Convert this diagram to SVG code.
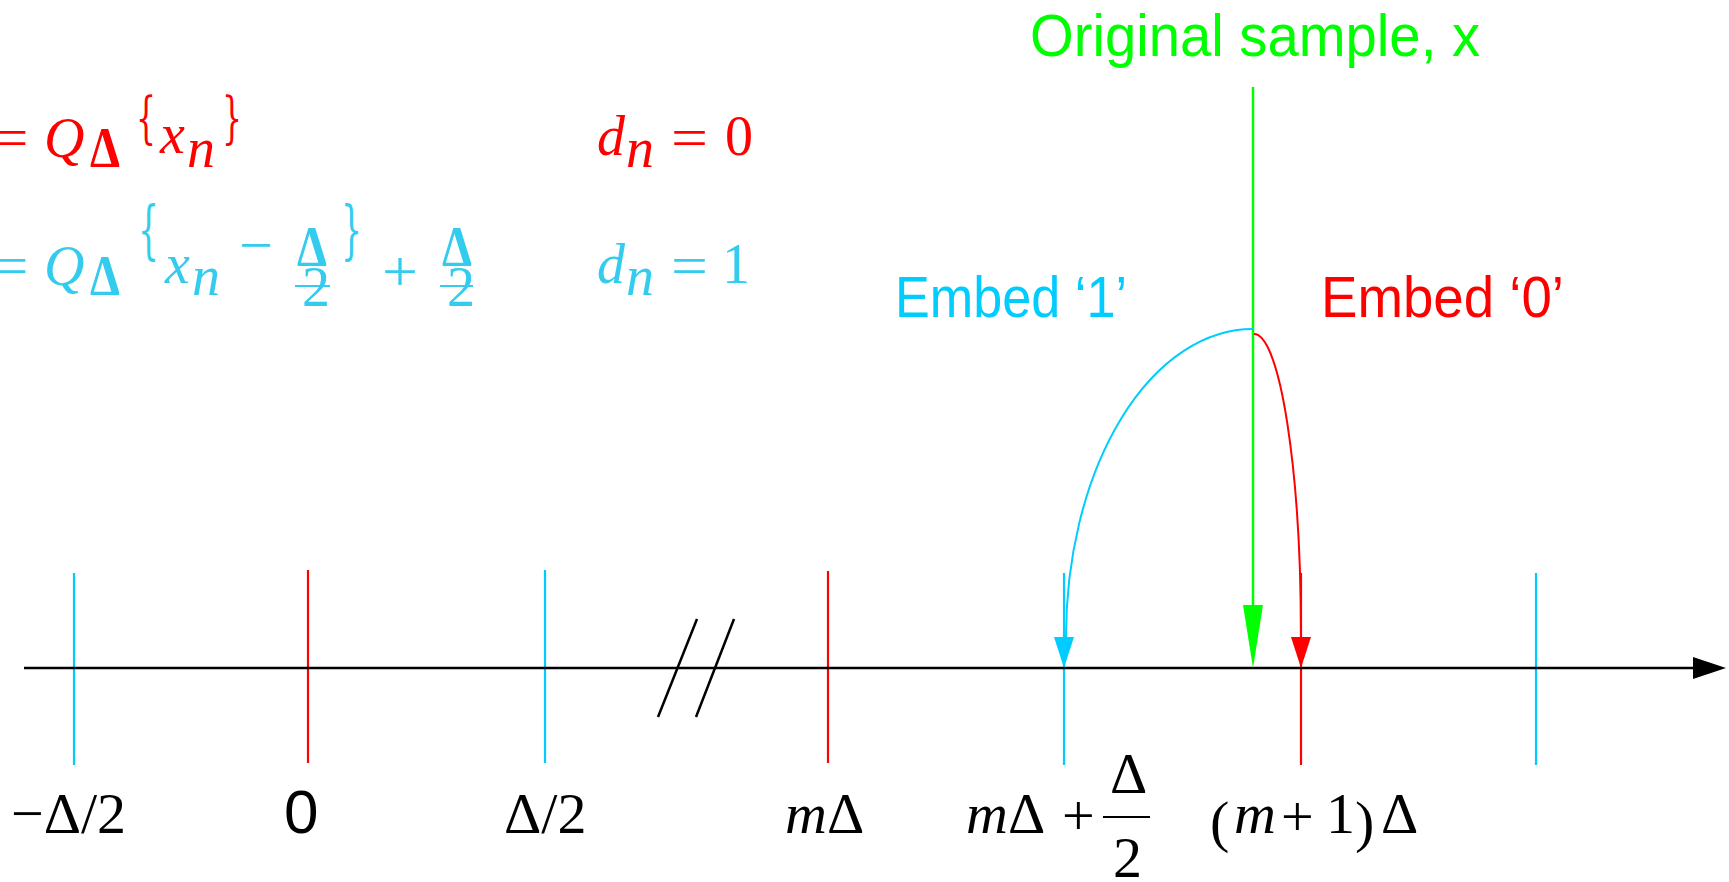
<svg xmlns="http://www.w3.org/2000/svg" width="1729" height="882" viewBox="0 0 1729 882">
<style>
.tm{font-family:"Liberation Serif","Times New Roman",serif;font-size:58px;fill:#000}
.it{font-style:italic}
.cm{font-family:"Liberation Serif","Times New Roman",serif;font-size:56px}
.br{font-family:"DejaVu Serif",serif}
.red{fill:#FF0000}
.cy{fill:#33CCEE}
.sans{font-family:"Liberation Sans",Arial,sans-serif}
.tickc{stroke:#00CCFF;stroke-width:2.2}
.tickr{stroke:#FF0000;stroke-width:2.2}
</style>
<rect x="0" y="0" width="1729" height="882" fill="#FFFFFF"/>

<g id="formula-red">
<text class="cm red" x="-3" y="157" textLength="31" lengthAdjust="spacingAndGlyphs">=</text>
<text class="cm red it" x="44" y="157" font-size="63">Q</text>
<text class="cm red" x="90" y="167" font-size="40" font-weight="bold" textLength="30" lengthAdjust="spacingAndGlyphs">Δ</text>
<text class="br red" x="136" y="137" font-size="56" textLength="20" lengthAdjust="spacingAndGlyphs">{</text>
<text class="cm red it" x="160" y="153" font-size="58">x</text>
<text class="cm red it" x="187" y="167" font-size="46">n</text>
<text class="br red" x="222" y="137" font-size="56" textLength="20" lengthAdjust="spacingAndGlyphs">}</text>
<text class="cm red it" x="597" y="155">d</text>
<text class="cm red it" x="626" y="167" font-size="44">n</text>
<text class="cm red" x="671" y="157" textLength="37" lengthAdjust="spacingAndGlyphs">=</text>
<text class="cm red" x="725" y="155">0</text>
</g>

<g id="formula-cyan">
<text class="cm cy" x="-3" y="285" textLength="31" lengthAdjust="spacingAndGlyphs">=</text>
<text class="cm cy it" x="44" y="285" font-size="63">Q</text>
<text class="cm cy" x="90" y="295" font-size="40" font-weight="bold" textLength="30" lengthAdjust="spacingAndGlyphs">Δ</text>
<text class="br cy" x="138" y="252" font-size="64" textLength="21" lengthAdjust="spacingAndGlyphs">{</text>
<text class="cm cy it" x="165" y="283" font-size="58">x</text>
<text class="cm cy it" x="192" y="295" font-size="46">n</text>
<text class="cm cy" x="239" y="264" textLength="34" lengthAdjust="spacingAndGlyphs">−</text>
<text class="cm cy" x="297" y="266" font-size="36" font-weight="bold" textLength="30" lengthAdjust="spacingAndGlyphs">Δ</text>
<line x1="295" y1="286" x2="330" y2="286" stroke="#33CCEE" stroke-width="2.2"/>
<text class="cm cy" x="302" y="306" font-size="34">2</text>
<text class="br cy" x="341" y="252" font-size="64" textLength="21" lengthAdjust="spacingAndGlyphs">}</text>
<text class="cm cy" x="382" y="291" font-size="80" textLength="36" lengthAdjust="spacingAndGlyphs">+</text>
<text class="cm cy" x="442" y="266" font-size="36" font-weight="bold" textLength="30" lengthAdjust="spacingAndGlyphs">Δ</text>
<line x1="440" y1="286" x2="473" y2="286" stroke="#33CCEE" stroke-width="2.2"/>
<text class="cm cy" x="447" y="306" font-size="34">2</text>
<text class="cm cy it" x="597" y="283">d</text>
<text class="cm cy it" x="626" y="295" font-size="44">n</text>
<text class="cm cy" x="671" y="285" textLength="37" lengthAdjust="spacingAndGlyphs">=</text>
<text class="cm cy" x="722" y="283">1</text>
</g>

<g id="title">
<text class="sans" x="1030" y="56" font-size="60" fill="#00FF00" textLength="450" lengthAdjust="spacingAndGlyphs">Original sample, x</text>
</g>
<g id="embed1">
<text class="sans" x="895" y="317" font-size="57" fill="#00CCFF" textLength="232" lengthAdjust="spacingAndGlyphs">Embed ‘1’</text>
</g>
<g id="embed0">
<text class="sans" x="1321" y="317" font-size="57" fill="#FF0000" textLength="243" lengthAdjust="spacingAndGlyphs">Embed ‘0’</text>
</g>

<g id="ticks">
<line class="tickc" x1="74" y1="573" x2="74" y2="765"/>
<line class="tickr" x1="308" y1="570" x2="308" y2="763"/>
<line class="tickc" x1="545" y1="570" x2="545" y2="763"/>
<line class="tickr" x1="828" y1="571" x2="828" y2="763"/>
<line class="tickc" x1="1064" y1="573" x2="1064" y2="765"/>
<line class="tickr" x1="1301" y1="573" x2="1301" y2="765"/>
<line class="tickc" x1="1536" y1="573" x2="1536" y2="765"/>
</g>

<g id="break">
<line x1="697" y1="619" x2="658" y2="717" stroke="#000" stroke-width="2.5"/>
<line x1="734" y1="619" x2="696" y2="717" stroke="#000" stroke-width="2.5"/>
</g>

<g id="connectors">
<line x1="24" y1="668" x2="1695" y2="668" stroke="#000" stroke-width="2.5"/>
<polygon points="1693,657 1726,668 1693,679" fill="#000"/>
<line x1="1253" y1="87" x2="1253" y2="610" stroke="#00FF00" stroke-width="2.5"/>
<polygon points="1243,605 1263,605 1253,668" fill="#00FF00"/>
<path d="M1253,329 A187,308 0 0 0 1066,637" fill="none" stroke="#00CCFF" stroke-width="2"/>
<polygon points="1054,637 1074,637 1064,668" fill="#00CCFF"/>
<path d="M1254,334 A47,303 0 0 1 1301,640" fill="none" stroke="#FF0000" stroke-width="2"/>
<polygon points="1291,637 1311,637 1301,668" fill="#FF0000"/>
</g>

<g id="labels">
<text class="tm" x="11" y="833">−Δ/2</text>
<text class="sans" x="284" y="833" font-size="62" fill="#000">0</text>
<text class="tm" x="504" y="833">Δ/2</text>
<text class="tm" x="785" y="833"><tspan class="it">m</tspan>Δ</text>
<text class="tm" x="966" y="833"><tspan class="it">m</tspan>Δ</text>
<text class="tm" x="1062" y="835" font-size="60">+</text>
<line x1="1103" y1="817" x2="1150" y2="817" stroke="#000" stroke-width="2.2"/>
<text class="tm" x="1110" y="793">Δ</text>
<text class="tm" x="1113" y="877">2</text>
<text class="tm" x="1210" y="841" font-size="80">(</text>
<text class="tm it" x="1234" y="833">m</text>
<text class="tm" x="1281" y="836" font-size="68">+</text>
<text class="tm" x="1326" y="833" font-size="62">1</text>
<text class="tm" x="1355" y="841" font-size="80">)</text>
<text class="tm" x="1381" y="833">Δ</text>
</g>
</svg>
